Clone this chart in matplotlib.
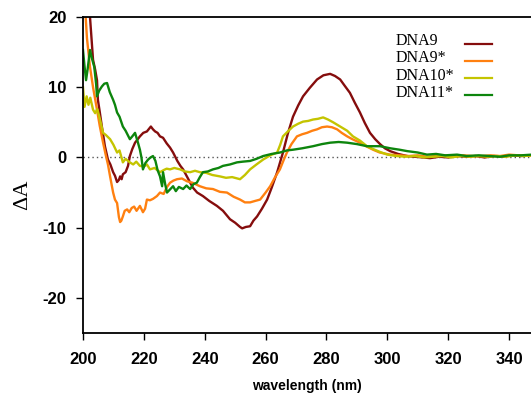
"""
Purpose: CD difference spectra (delta A vs wavelength) for DNA9, DNA9*, DNA10* and DNA11*
"""

import matplotlib
matplotlib.use('Agg')
import matplotlib.pyplot as plt

# Data (wavelength in nm, delta A)
wl_dna9 = [201.5, 202.3, 203.3, 204.0, 204.6, 204.9, 205.5, 206.2, 207.2, 208.2, 209.0, 209.9, 210.5,
           211.2, 211.8, 212.2, 212.7, 213.1, 214.0, 214.8, 215.4, 216.2, 217.1, 218.0, 218.7, 219.8,
           221.0, 222.3, 223.0, 223.7, 224.5, 225.3, 226.3, 227.5, 228.6, 229.6, 231.0, 232.0, 232.9,
           234.5, 236.1, 237.5, 239.4, 241.5, 244.0, 246.0, 248.3, 250.0, 251.6, 252.3, 253.5, 254.9,
           256.0, 257.2, 258.8, 260.5, 262.0, 263.8, 265.7, 267.3, 269.0, 270.7, 272.3, 274.5, 276.9,
           279.0, 281.2, 282.8, 284.5, 286.0, 287.7, 289.3, 291.0, 292.6, 294.3, 296.0, 297.6, 299.2,
           300.9, 303.5, 306.5, 309.0, 311.7, 314.0, 317.0, 320.0, 323.0, 326.0, 329.0, 332.0, 335.0,
           338.0, 341.0, 344.0, 347.5]
dna9 = [24.0, 20.0, 13.9, 12.5, 11.0, 8.2, 6.5, 4.4, 1.6, -0.3, -1.0, -2.1, -2.6,
        -3.5, -3.2, -2.7, -3.1, -2.4, -2.1, -1.2, 0.2, 1.2, 2.1, 2.6, 3.0, 3.5,
        3.7, 4.4, 4.0, 3.7, 3.5, 3.0, 2.8, 2.0, 1.4, 0.7, -0.5, -1.2, -1.7,
        -3.0, -4.3, -5.0, -5.5, -6.2, -6.9, -7.6, -8.8, -9.3, -9.9, -10.1, -9.9, -9.8,
        -9.0, -8.4, -7.3, -6.0, -4.3, -2.1, 0.7, 3.4, 5.8, 7.4, 8.7, 9.9, 11.1,
        11.7, 11.9, 11.6, 11.1, 10.2, 9.2, 7.8, 6.4, 4.9, 3.5, 2.6, 1.9, 1.3,
        0.9, 0.5, 0.2, 0.1, 0.0, -0.1, 0.1, 0.0, 0.2, 0.1, 0.2, 0.0, 0.2,
        0.1, 0.3, 0.2, 0.3]

wl_dna9s = [200.6, 201.3, 202.3, 203.3, 204.6, 205.5, 206.6, 207.5, 208.2, 208.9, 209.9, 210.5, 211.2,
            211.8, 212.2, 212.6, 213.1, 213.7, 214.5, 215.2, 216.0, 216.8, 217.6, 218.7, 219.7, 220.4,
            221.0, 222.0, 223.0, 224.3, 225.3, 226.5, 227.6, 228.6, 229.7, 230.9, 232.5, 234.2, 236.0,
            238.4, 240.5, 242.7, 245.0, 247.3, 249.5, 251.6, 253.2, 254.9, 256.5, 258.2, 260.0, 261.5,
            263.0, 264.7, 266.0, 267.0, 268.5, 270.3, 272.0, 273.6, 275.3, 276.9, 278.5, 280.2, 281.8,
            283.5, 285.0, 286.8, 288.5, 290.0, 291.0, 293.0, 295.3, 297.5, 300.9, 304.0, 307.0, 310.0,
            313.0, 316.0, 319.0, 322.0, 325.0, 328.0, 331.0, 334.0, 337.0, 340.0, 343.0, 347.5]
dna9s = [22.0, 17.0, 12.9, 10.0, 6.8, 4.5, 2.1, 0.3, -1.0, -2.7, -5.0, -6.0, -6.5,
         -8.5, -9.2, -9.0, -8.4, -7.6, -7.4, -7.8, -7.2, -7.0, -7.6, -6.9, -7.8, -7.3,
         -6.0, -6.1, -5.9, -5.5, -5.0, -5.2, -4.2, -3.6, -3.3, -3.1, -3.0, -3.4, -3.6,
         -4.1, -4.4, -4.5, -4.9, -5.0, -5.6, -6.0, -6.4, -6.4, -6.2, -6.0, -5.0, -4.1,
         -2.9, -1.7, -0.3, 0.7, 1.9, 3.0, 3.3, 3.5, 3.8, 4.0, 4.3, 4.4, 4.3,
         4.0, 3.5, 3.0, 2.6, 2.3, 2.1, 1.6, 1.1, 0.7, 0.4, 0.3, 0.2, 0.3,
         0.1, 0.2, 0.3, 0.1, 0.3, 0.2, 0.2, 0.3, 0.2, 0.4, 0.3, 0.3]

wl_dna10s = [200.0, 200.5, 201.2, 201.8, 202.4, 203.3, 204.0, 204.7, 205.6, 206.6, 207.5, 208.9, 210.0,
             211.2, 212.0, 213.1, 214.0, 215.4, 216.5, 217.5, 218.7, 220.0, 221.0, 222.0, 223.5, 225.3,
             226.5, 227.5, 228.6, 230.0, 231.9, 233.5, 235.2, 236.8, 238.4, 240.5, 242.5, 245.0, 247.0,
             249.0, 251.6, 253.2, 254.9, 257.0, 259.2, 261.5, 263.8, 264.8, 265.7, 267.3, 269.0, 270.7,
             272.3, 274.0, 275.6, 277.2, 278.9, 280.5, 282.2, 284.5, 286.8, 288.7, 291.0, 293.3, 295.3,
             297.5, 300.0, 303.0, 306.0, 309.0, 312.0, 315.0, 318.0, 321.0, 324.0, 327.0, 330.0, 333.0,
             336.0, 339.0, 342.0, 345.0, 347.5]
dna10s = [10.0, 7.2, 8.7, 7.5, 8.5, 6.8, 6.3, 6.9, 5.4, 3.5, 3.2, 2.6, 1.8,
          0.7, 1.0, -0.7, -0.2, -0.7, -1.0, -0.6, -1.2, -1.3, -1.0, -1.7, -1.5, -2.1,
          -1.8, -1.6, -1.7, -1.5, -1.7, -2.0, -2.1, -1.9, -2.1, -2.2, -2.5, -2.7, -2.9,
          -2.8, -3.1, -2.5, -1.7, -1.0, -0.3, 0.3, 0.7, 1.8, 3.0, 3.7, 4.4, 4.8,
          5.1, 5.2, 5.4, 5.5, 5.7, 5.4, 5.0, 4.4, 3.8, 3.0, 2.4, 1.6, 1.2,
          0.8, 0.4, 0.2, 0.1, 0.2, 0.0, 0.1, 0.2, 0.0, 0.2, 0.1, 0.2, 0.1,
          0.2, 0.1, 0.3, 0.2, 0.3]

wl_dna11s = [200.0, 200.5, 201.0, 201.5, 202.3, 203.0, 203.7, 204.3, 204.6, 205.3, 206.2, 207.0, 207.9,
             208.8, 209.9, 210.5, 211.2, 212.0, 213.1, 214.0, 215.4, 216.2, 217.1, 218.0, 218.7, 219.2,
             219.7, 220.5, 221.4, 222.2, 223.0, 223.8, 224.5, 225.3, 226.0, 226.3, 227.0, 227.6, 228.5,
             229.6, 230.5, 231.5, 232.9, 234.0, 235.2, 236.3, 237.4, 238.4, 239.4, 241.0, 242.7, 244.5,
             246.0, 248.3, 250.6, 252.5, 254.9, 257.0, 259.2, 262.0, 264.7, 267.0, 269.0, 272.0, 275.6,
             278.5, 281.2, 284.0, 286.8, 290.0, 293.3, 297.6, 301.0, 304.0, 306.5, 310.0, 313.0, 316.0,
             319.0, 322.9, 326.0, 330.0, 333.7, 337.0, 340.0, 344.0, 347.5]
dna11s = [15.3, 13.0, 11.0, 12.5, 15.3, 14.0, 12.9, 10.5, 8.7, 9.5, 10.1, 10.5, 10.6,
          9.3, 8.2, 7.5, 6.4, 5.8, 4.4, 3.8, 2.6, 3.0, 3.5, 2.2, 1.1, 0.0,
          -1.7, -0.8, -0.3, 0.0, 0.2, -0.5, -1.8, -2.7, -4.1, -2.1, -3.8, -5.0, -4.6,
          -4.1, -4.8, -4.2, -4.5, -4.0, -4.5, -3.8, -3.6, -2.8, -2.1, -2.0, -1.7, -1.5,
          -1.2, -1.0, -0.7, -0.6, -0.5, -0.2, 0.2, 0.5, 0.7, 1.0, 1.1, 1.3, 1.6,
          1.9, 2.1, 2.2, 2.1, 1.9, 1.6, 1.6, 1.3, 1.1, 0.9, 0.7, 0.4, 0.5,
          0.3, 0.4, 0.2, 0.3, 0.2, 0.1, 0.3, 0.3, 0.4]

labels = ['DNA9', 'DNA9*', 'DNA10*', 'DNA11*']
colors = ['#850d0d', '#ff8010', '#c4c400', '#0d850d']

x_ticks = [200, 220, 240, 260, 280, 300, 320, 340]
y_ticks = [-20, -10, 0, 10, 20]

SANS = 'Liberation Sans'
SERIF = 'Liberation Serif'

# plain hyphen for negative tick labels, as in the original figure
plt.rcParams['axes.unicode_minus'] = False


def plot_spectra():
    fig = plt.figure(figsize=(5.31, 3.96), dpi=100)
    ax = fig.add_axes([0.1563, 0.1591, 0.8437, 0.798])

    series = [(wl_dna9, dna9), (wl_dna9s, dna9s), (wl_dna10s, dna10s), (wl_dna11s, dna11s)]

    # zero reference line
    ax.axhline(0, color='#555555', lw=1.0, ls=(0, (1, 2.2)), zorder=1)

    for (wl, vals), color in zip(series, colors):
        ax.plot(wl, vals, color=color, lw=1.7, zorder=2)

    ax.set_xlim(200, 347.2)
    ax.set_ylim(-25, 20)
    ax.set_xticks(x_ticks)
    ax.set_yticks(y_ticks)

    for side in ['left', 'bottom', 'top']:
        ax.spines[side].set_linewidth(1.3)
    ax.spines['right'].set_visible(False)

    ax.tick_params(axis='x', direction='out', length=5, width=1.0, pad=9)
    ax.tick_params(axis='y', direction='out', length=5, width=1.0, pad=7)
    for lbl in ax.get_xticklabels() + ax.get_yticklabels():
        lbl.set_fontfamily(SANS)
        lbl.set_fontweight('bold')
        lbl.set_fontsize(12)

    ax.set_xlabel('wavelength (nm)', fontfamily=SANS, fontweight='bold', fontsize=10, labelpad=8)
    ax.set_ylabel('\u0394A', fontfamily=SERIF, fontsize=16)
    ax.yaxis.set_label_coords(-0.114, 0.437)

    # legend drawn by hand: text on the left, line sample on the right
    text_y = [0.924, 0.870, 0.814, 0.760]
    line_y = [0.915, 0.861, 0.807, 0.753]
    for label, color, ty, ly in zip(labels, colors, text_y, line_y):
        ax.text(0.698, ty, label, transform=ax.transAxes, fontfamily=SERIF, fontsize=11.5,
                va='center', ha='left')
        ax.plot([0.853, 0.913], [ly, ly], transform=ax.transAxes, color=color, lw=1.6)

    fig.savefig('out.png', dpi=100)


plot_spectra()
